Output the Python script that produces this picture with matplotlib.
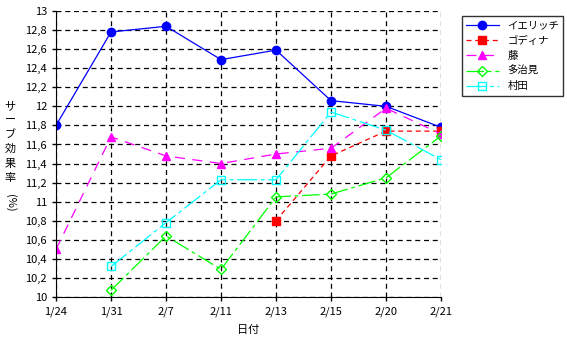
import matplotlib
matplotlib.use('Agg')
import matplotlib.pyplot as plt
import numpy as np

plt.rcParams['font.family'] = ['Noto Sans CJK JP', 'DejaVu Sans']

dates = ['1/24', '1/31', '2/7', '2/11', '2/13', '2/15', '2/20', '2/21']
names = ['イエリッチ', 'ゴディナ', '藤', '多治見', '村田']
ierichi = [11.8, 12.78, 12.84, 12.49, 12.59, 12.06, 12.0, 11.78]
godina = [np.nan, np.nan, np.nan, np.nan, 10.8, 11.48, 11.74, 11.74]
fuji = [10.5, 11.68, 11.48, 11.4, 11.5, 11.56, 11.98, 11.71]
tajimi = [np.nan, 10.07, 10.64, 10.29, 11.05, 11.08, 11.25, 11.69]
murata = [np.nan, 10.32, 10.78, 11.23, 11.23, 11.94, 11.75, 11.44]

fig = plt.figure(figsize=(5.67, 3.40), dpi=100)
ax = fig.add_axes([0.0988, 0.1265, 0.679, 0.8411])
x = np.arange(len(dates))

ax.plot(x, ierichi, color='#0000ff', lw=0.9, marker='o', ms=6, label=names[0])
ax.plot(x, godina, color='#ff0000', lw=0.9, ls=(0, (4, 3)), marker='s', ms=6, label=names[1])
ax.plot(x, fuji, color='#ff00ff', lw=0.9, ls=(0, (8, 6)), marker='^', ms=5.5, label=names[2])
ax.plot(x, tajimi, color='#00ff00', lw=0.9, ls=(0, (14, 3, 3, 3)), marker='D', ms=5,
        mfc='none', label=names[3])
ax.plot(x, murata, color='#00ffff', lw=0.9, ls=(0, (16, 3, 3, 3)), marker='s', ms=6,
        mfc='none', label=names[4])

ax.set_xlim(0, len(dates) - 1)
ax.set_ylim(10, 13)
ax.set_xticks(x)
ax.set_xticklabels(dates, fontsize=8)
yt = np.round(np.arange(10, 13.01, 0.2), 1)
ax.set_yticks(yt)
ax.set_yticklabels([f'{v:g}'.replace('.', ',') for v in yt], fontsize=8)
ax.tick_params(length=3, width=1, colors='black')
ax.grid(True, color='black', ls=(0, (4, 3)), lw=0.9)
ax.spines['top'].set_visible(False)
ax.spines['right'].set_visible(False)
ax.set_xlabel('日付', fontsize=8, labelpad=6)

fig.text(0.018, 1 - 101 / 340, '\n'.join(['サ', 'ー', 'ブ', '効', '果', '率']),
         fontsize=8, ha='center', va='top', linespacing=1.55)
fig.text(0.018, 1 - 203 / 340, '(%)', fontsize=8, ha='center', va='center', rotation=-90)

leg = ax.legend(loc='upper left', bbox_to_anchor=(1.04, 1.0), fontsize=7.5,
                frameon=True, fancybox=False, edgecolor='black', borderpad=0.4,
                handlelength=3.2, labelspacing=0.5)
leg.get_frame().set_linewidth(1.0)

fig.savefig('out.png', dpi=100)
